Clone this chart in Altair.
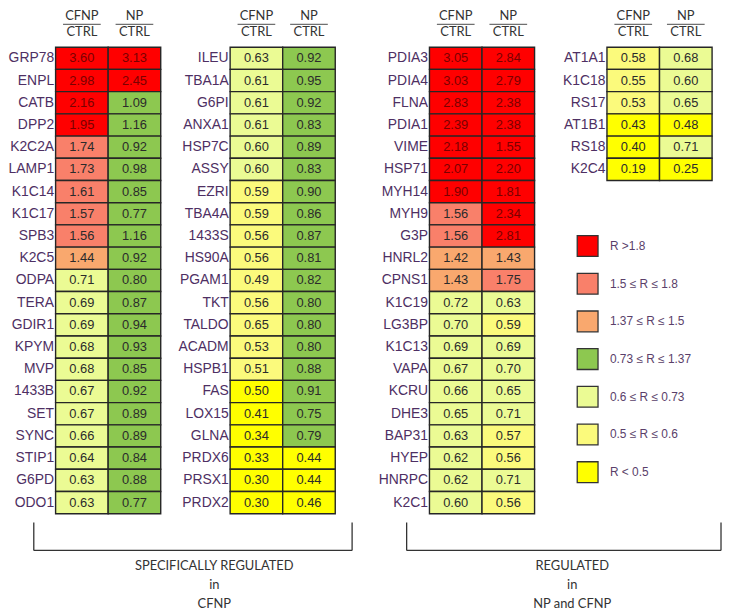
import altair as alt
import pandas as pd

cols = ["CFNP", "NP"]

genes1 = ["GRP78", "ENPL", "CATB", "DPP2", "K2C2A", "LAMP1", "K1C14", "K1C17", "SPB3", "K2C5",
          "ODPA", "TERA", "GDIR1", "KPYM", "MVP", "1433B", "SET", "SYNC", "STIP1", "G6PD", "ODO1"]
cfnp1 = [3.60, 2.98, 2.16, 1.95, 1.74, 1.73, 1.61, 1.57, 1.56, 1.44,
         0.71, 0.69, 0.69, 0.68, 0.68, 0.67, 0.67, 0.66, 0.64, 0.63, 0.63]
np1 = [3.13, 2.45, 1.09, 1.16, 0.92, 0.98, 0.85, 0.77, 1.16, 0.92,
       0.80, 0.87, 0.94, 0.93, 0.85, 0.92, 0.89, 0.89, 0.84, 0.88, 0.77]

genes2 = ["ILEU", "TBA1A", "G6PI", "ANXA1", "HSP7C", "ASSY", "EZRI", "TBA4A", "1433S", "HS90A",
          "PGAM1", "TKT", "TALDO", "ACADM", "HSPB1", "FAS", "LOX15", "GLNA", "PRDX6", "PRSX1", "PRDX2"]
cfnp2 = [0.63, 0.61, 0.61, 0.61, 0.60, 0.60, 0.59, 0.59, 0.56, 0.56,
         0.49, 0.56, 0.65, 0.53, 0.51, 0.50, 0.41, 0.34, 0.33, 0.30, 0.30]
np2 = [0.92, 0.95, 0.92, 0.83, 0.89, 0.83, 0.90, 0.86, 0.87, 0.81,
       0.82, 0.80, 0.80, 0.80, 0.88, 0.91, 0.75, 0.79, 0.44, 0.44, 0.46]

genes3 = ["PDIA3", "PDIA4", "FLNA", "PDIA1", "VIME", "HSP71", "MYH14", "MYH9", "G3P", "HNRL2",
          "CPNS1", "K1C19", "LG3BP", "K1C13", "VAPA", "KCRU", "DHE3", "BAP31", "HYEP", "HNRPC", "K2C1"]
cfnp3 = [3.05, 3.03, 2.83, 2.39, 2.18, 2.07, 1.90, 1.56, 1.56, 1.42,
         1.43, 0.72, 0.70, 0.69, 0.67, 0.66, 0.65, 0.63, 0.62, 0.62, 0.60]
np3 = [2.84, 2.79, 2.38, 2.38, 1.55, 2.20, 1.81, 2.34, 2.81, 1.43,
       1.75, 0.63, 0.59, 0.69, 0.70, 0.65, 0.71, 0.57, 0.56, 0.71, 0.56]

genes4 = ["AT1A1", "K1C18", "RS17", "AT1B1", "RS18", "K2C4"]
cfnp4 = [0.58, 0.55, 0.53, 0.43, 0.40, 0.19]
np4 = [0.68, 0.60, 0.65, 0.48, 0.71, 0.25]

class_labels = ["R >1.8", "1.5 \u2264 R \u2264 1.8", "1.37 \u2264 R \u2264 1.5",
                "0.73 \u2264 R \u2264 1.37", "0.6 \u2264 R \u2264 0.73",
                "0.5 \u2264 R \u2264 0.6", "R < 0.5"]
class_colors = ["#ff0000", "#f9806a", "#f9a86e", "#8dc850", "#ebfb94", "#fbfa7c", "#ffff00"]

# cells whose colour in the figure differs from the threshold rule
overrides = {("VIME", "NP"): 0, ("PGAM1", "CFNP"): 5, ("TALDO", "CFNP"): 5, ("FAS", "CFNP"): 6}

bottom_left = ["SPECIFICALLY REGULATED", "in", "CFNP"]
bottom_right = ["REGULATED", "in", "NP and CFNP"]

CELL_W = 53
STEP_H = 22.4
LABEL_COLOR = "#4e2f63"
TEXT_DARK = "#2b2b2b"


def cls(v):
    if v > 1.8:
        return 0
    if v >= 1.5:
        return 1
    if v >= 1.37:
        return 2
    if v >= 0.73:
        return 3
    if v >= 0.6:
        return 4
    if v >= 0.5:
        return 5
    return 6


def xenc():
    return alt.X("col:N", sort=cols, axis=None,
                 scale=alt.Scale(domain=cols, range=[0, 2 * CELL_W],
                                 paddingInner=0, paddingOuter=0))


def one_row():
    return alt.Chart(pd.DataFrame({"k": [0]}))


def panel(genes, cv, nv, extra=0, bracket=None):
    rows = []
    for g, a, b in zip(genes, cv, nv):
        for c, v in (("CFNP", a), ("NP", b)):
            k = overrides.get((g, c), cls(v))
            rows.append({"gene": g, "col": c, "val": v, "cls": class_labels[k], "hi": k == 0})
    df = pd.DataFrame(rows)
    H = len(genes) * STEP_H

    yenc = alt.Y("gene:N", sort=genes, title=None,
                 scale=alt.Scale(domain=genes, paddingInner=0, paddingOuter=0),
                 axis=alt.Axis(ticks=False, domain=False, labelPadding=2, labelFontSize=14,
                               labelFont="Liberation Sans", labelColor=LABEL_COLOR, labelLimit=0))
    base = alt.Chart(df).encode(x=xenc(), y=yenc)
    rect = base.mark_rect(stroke="#262626", strokeWidth=1.4).encode(
        fill=alt.Fill("cls:N",
                      scale=alt.Scale(domain=class_labels, range=class_colors),
                      legend=alt.Legend(title=None, orient="none", legendX=525, legendY=189,
                                        symbolType="square", symbolSize=440,
                                        symbolStrokeColor="#333333", symbolStrokeWidth=1.3,
                                        rowPadding=11, labelFont="Liberation Sans",
                                        labelFontSize=12, labelColor="#5a3f6a",
                                        labelOffset=11, padding=0)))
    txt = base.mark_text(font="Liberation Sans", fontSize=13).encode(
        text=alt.Text("val:Q", format=".2f"),
        color=alt.condition("datum.hi", alt.value("#7a0000"), alt.value(TEXT_DARK)))

    hdr = pd.DataFrame({"col": cols, "num": ["CFNP", "NP"], "den": ["CTRL", "CTRL"]})
    hnum = alt.Chart(hdr).mark_text(font="Lato", fontSize=13, color="#333333").encode(
        x=xenc(), y=alt.value(-31), text="num:N")
    hden = alt.Chart(hdr).mark_text(font="Lato", fontSize=13, color="#333333").encode(
        x=xenc(), y=alt.value(-15), text="den:N")
    hbar = alt.Chart(hdr).mark_tick(orient="horizontal", size=38, thickness=1.3,
                                    color="#333333").encode(x=xenc(), y=alt.value(-23))

    layers = [rect, txt, hnum, hden, hbar]
    if bracket is not None:
        x0, x1, tx, lines = bracket
        y0, y1 = H + 9, H + 37
        style = dict(color="#333333", strokeWidth=1.3)
        layers.append(one_row().mark_rule(**style).encode(
            x=alt.value(x0), y=alt.value(y0), y2=alt.value(y1)))
        layers.append(one_row().mark_rule(**style).encode(
            x=alt.value(x1), y=alt.value(y0), y2=alt.value(y1)))
        layers.append(one_row().mark_rule(**style).encode(
            x=alt.value(x0), x2=alt.value(x1), y=alt.value(y1)))
        layers.append(one_row().mark_text(font="Lato", fontSize=13, color="#333333",
                                          baseline="top", lineHeight=19).encode(
            x=alt.value(tx), y=alt.value(H + 47), text=alt.value(lines)))
    return alt.layer(*layers).properties(width=2 * CELL_W + extra, height=H)


p1 = panel(genes1, cfnp1, np1, bracket=(-22, 299, 160, bottom_left))
p2 = panel(genes2, cfnp2, np2, extra=25)
p3 = panel(genes3, cfnp3, np3, extra=3, bracket=(-23, 294, 144, bottom_right))
p4 = panel(genes4, cfnp4, np4)

chart = alt.hconcat(p1, p2, p3, p4, spacing=70, bounds="flush").resolve_scale(
    fill="shared").properties(
    padding={"left": 0, "top": 0, "right": 0, "bottom": 0}).configure_view(strokeWidth=0)

chart.save("out.html", embed_options={"renderer": "svg", "actions": False})
